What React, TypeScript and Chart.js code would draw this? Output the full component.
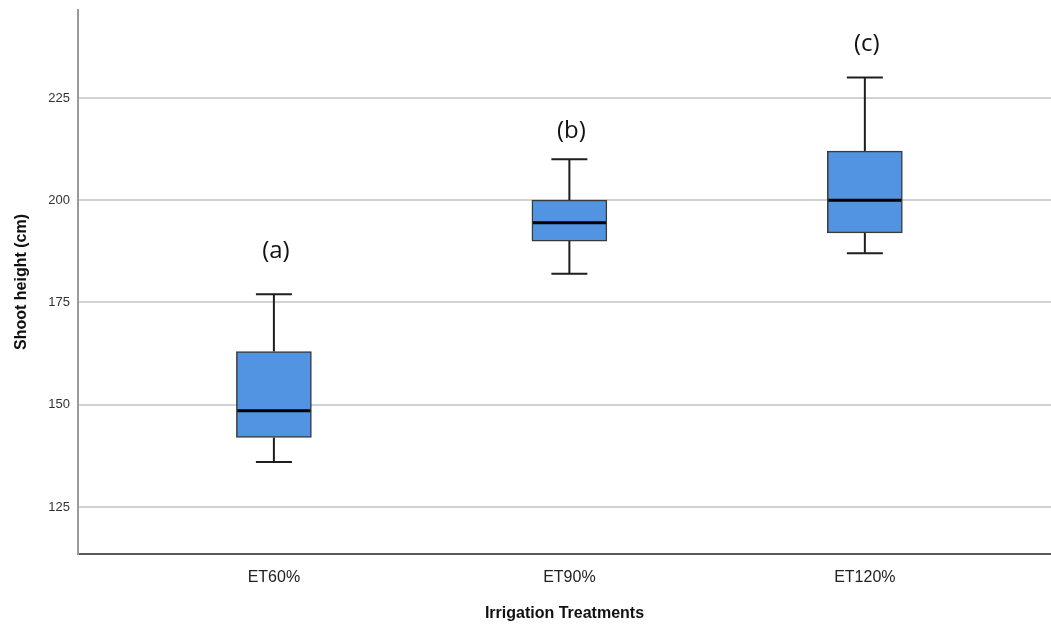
import React, { useEffect, useRef } from "react";
import { Chart, registerables } from "chart.js";

Chart.register(...registerables);

// Irrigation treatments and shoot-height box statistics (cm)
const treatments = ["ET60%", "ET90%", "ET120%"];
const minValues = [136, 182, 187];
const q1Values = [142, 190, 192];
const medianValues = [148.5, 194.5, 200];
const q3Values = [163, 200, 212];
const maxValues = [177, 210, 230];

// Significance letters and the height (cm) at which each is written
const groupLetters = ["(a)", "(b)", "(c)"];
const letterValues = [187.5, 216.9, 238.2];

const yTicks = [125, 150, 175, 200, 225];

const boxPlotPlugin = {
  id: "boxWhiskers",
  beforeDatasetsDraw(chart: any) {
    const { ctx, scales } = chart;
    const xs = scales.x;
    const ys = scales.y;
    ctx.save();
    ctx.strokeStyle = "#1e1e1e";
    ctx.lineWidth = 2;
    treatments.forEach((_, i) => {
      const cx = xs.getPixelForValue(i);
      const half = 18;
      const yMin = ys.getPixelForValue(minValues[i]);
      const yMax = ys.getPixelForValue(maxValues[i]);
      const yQ1 = ys.getPixelForValue(q1Values[i]);
      const yQ3 = ys.getPixelForValue(q3Values[i]);
      ctx.beginPath();
      ctx.moveTo(cx, yQ3);
      ctx.lineTo(cx, yMax);
      ctx.moveTo(cx - half, yMax);
      ctx.lineTo(cx + half, yMax);
      ctx.moveTo(cx, yQ1);
      ctx.lineTo(cx, yMin);
      ctx.moveTo(cx - half, yMin);
      ctx.lineTo(cx + half, yMin);
      ctx.stroke();
    });
    ctx.restore();
  },
  afterDatasetsDraw(chart: any) {
    const { ctx, scales } = chart;
    const xs = scales.x;
    const ys = scales.y;
    const meta = chart.getDatasetMeta(0);
    ctx.save();
    treatments.forEach((_, i) => {
      const bar = meta.data[i];
      const w = bar.width;
      const cx = xs.getPixelForValue(i);
      const ym = ys.getPixelForValue(medianValues[i]);
      ctx.strokeStyle = "#000000";
      ctx.lineWidth = 3;
      ctx.beginPath();
      ctx.moveTo(cx - w / 2 + 1, ym);
      ctx.lineTo(cx + w / 2 - 1, ym);
      ctx.stroke();

      ctx.fillStyle = "#111111";
      ctx.font = '24px "Open Sans", "Noto Sans", sans-serif';
      ctx.textAlign = "center";
      ctx.textBaseline = "middle";
      ctx.fillText(groupLetters[i], cx + 2, ys.getPixelForValue(letterValues[i]));
    });
    ctx.restore();
  },
};

export default function App() {
  const canvasRef = useRef<HTMLCanvasElement | null>(null);

  useEffect(() => {
    if (!canvasRef.current) return;
    const chart = new Chart(canvasRef.current, {
      type: "bar",
      data: {
        datasets: [
          {
            data: treatments.map((_, i) => ({ x: i, y: [q1Values[i], q3Values[i]] })) as any,
            backgroundColor: "#5294e2",
            borderColor: "#3a3a3a",
            borderWidth: 1.5,
            borderSkipped: false,
            barThickness: 75,
          },
        ],
      },
      options: {
        animation: false,
        responsive: false,
        maintainAspectRatio: false,
        layout: { padding: { top: 10, right: 0, left: 12, bottom: 0 } },
        plugins: {
          legend: { display: false },
          tooltip: { enabled: false },
        },
        scales: {
          x: {
            type: "linear",
            offset: false,
            min: -0.663,
            max: 2.63,
            afterBuildTicks(scale: any) {
              scale.ticks = treatments.map((_, i) => ({ value: i }));
            },
            afterFit(scale: any) {
              scale.height = 74;
              scale.paddingLeft = 0;
              scale.paddingRight = 0;
            },
            grid: { display: false, drawTicks: false },
            border: { display: true, color: "#5a5a5a", width: 2 },
            ticks: {
              callback: (v: any) => treatments[v as number] ?? "",
              color: "#222222",
              font: { family: '"Liberation Sans", Arial, sans-serif', size: 16 },
              padding: 14,
              maxRotation: 0,
              autoSkip: false,
            },
            title: {
              display: true,
              text: "Irrigation Treatments",
              color: "#111111",
              font: { family: '"Liberation Sans", Arial, sans-serif', size: 16, weight: "bold" },
              padding: { top: 14, bottom: 5 },
            },
          },
          y: {
            type: "linear",
            min: 113.5,
            max: 246.5,
            afterBuildTicks(scale: any) {
              scale.ticks = yTicks.map((v) => ({ value: v }));
            },
            afterFit(scale: any) {
              scale.width = 66;
              scale.paddingTop = 0;
              scale.paddingBottom = 0;
            },
            grid: { color: "#d2d2d2", lineWidth: 2, drawTicks: false },
            border: { display: true, color: "#9a9a9a", width: 2 },
            ticks: {
              color: "#333333",
              font: { family: '"Liberation Sans", Arial, sans-serif', size: 13 },
              padding: 8,
            },
            title: {
              display: true,
              text: "Shoot height (cm)",
              color: "#111111",
              font: { family: '"Liberation Sans", Arial, sans-serif', size: 16, weight: "bold" },
              padding: { top: 0, bottom: 4 },
            },
          },
        },
      } as any,
      plugins: [boxPlotPlugin],
    });
    return () => chart.destroy();
  }, []);

  return (
    <div style={{ position: "fixed", left: 0, top: 0, width: 1051, height: 628, background: "#ffffff" }}>
      <canvas ref={canvasRef} width={1051} height={628} style={{ display: "block" }} />
    </div>
  );
}
